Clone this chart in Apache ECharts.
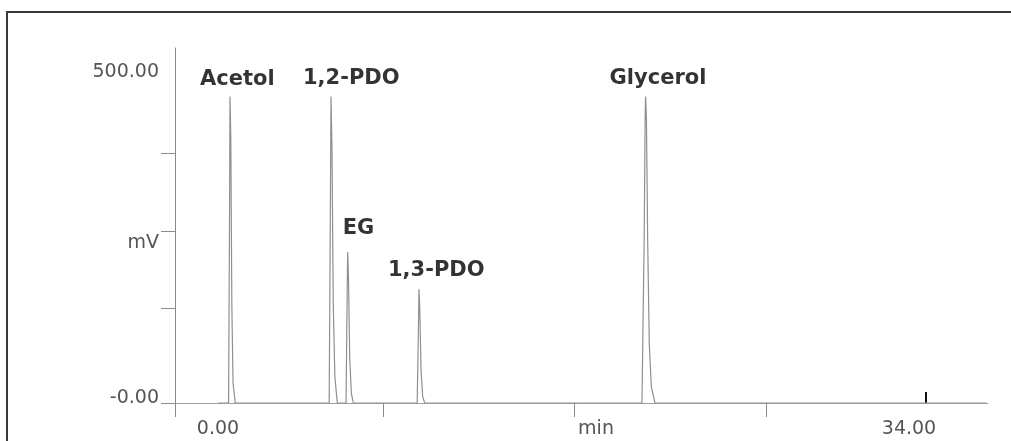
<!DOCTYPE html>
<html>
<head>
<meta charset="utf-8">
<script src="https://cdn.jsdelivr.net/npm/echarts@6/dist/echarts.min.js"></script>
<style>
    html, body { margin: 0; padding: 0; background: #fff; overflow: hidden; }
    #chart { width: 1011px; height: 441px; }
</style>
</head>
<body>
<div id="chart"></div>
<script>
// detector trace, [time (min), signal (mV)]
var trace = [
    [0.00, 0], [0.52, 0], [0.57, 300], [0.59, 463], [0.63, 400], [0.68, 150], [0.74, 30], [0.85, 0],
    [5.47, 0], [5.53, 300], [5.56, 463], [5.61, 380], [5.67, 150], [5.75, 40], [5.87, 0],
    [6.30, 0], [6.35, 150], [6.38, 228], [6.42, 190], [6.48, 70], [6.56, 15], [6.66, 0],
    [9.80, 0], [9.86, 110], [9.89, 172], [9.93, 140], [9.99, 50], [10.07, 10], [10.17, 0],
    [20.86, 0], [20.97, 250], [21.02, 440], [21.04, 463], [21.08, 430], [21.14, 250], [21.22, 90], [21.32, 25], [21.50, 0],
    [37.80, 0]
]

// peak labels
var peakNames = ['Acetol', '1,2-PDO', 'EG', '1,3-PDO', 'Glycerol']
var peakTimes = [0.59, 5.56, 6.38, 9.89, 21.04]
var peakHeights = [463, 463, 228, 172, 463]

// axis ticks and labels
var xTicks = [-2.116, 8.118, 17.516, 26.963]
var xLabelValues = [0, 18.6, 34]
var xLabelTexts = ['0.00', 'min', '34.00']
var endMark = [34.84]
var yTicks = [0, 143.5, 259.8, 377.6]
var yLabelValues = [0, 241.7, 500]
var yLabelTexts = ['-0.00', 'mV', '500.00']

var xMin = -2.116, xMax = 37.887
var yMin = 0, yMax = 536.3

function pick(values, texts, v) {
    for (var i = 0; i < values.length; i++) {
        if (Math.abs(values[i] - v) < 1e-6) return texts[i]
    }
    return ''
}

var chart = echarts.init(document.getElementById('chart'))

// label shift from the peak top, px
var shifts = [[-30, -17], [-28, -18], [-5, -24], [-31, -19], [-36, -18]]
var labelData = peakNames.map(function (n, i) {
    return {
        value: [peakTimes[i], peakHeights[i]],
        name: n,
        label: { offset: shifts[i] }
    }
})

var option = {
    animation: false,
    backgroundColor: '#fff',
    graphic: [{
        type: 'line',
        silent: true,
        z: -1,
        shape: { x1: 7, y1: 12, x2: 1011, y2: 12 },
        style: { stroke: '#3a3a3a', lineWidth: 2 }
    }, {
        type: 'line',
        silent: true,
        z: -1,
        shape: { x1: 7, y1: 11, x2: 7, y2: 441 },
        style: { stroke: '#3a3a3a', lineWidth: 2 }
    }],
    grid: { left: 175, right: 23, top: 48, bottom: 38 },
    xAxis: [{
        type: 'value',
        min: xMin,
        max: xMax,
        position: 'bottom',
        splitLine: { show: false },
        axisLine: { lineStyle: { color: '#a49c9c', width: 1 } },
        axisTick: {
            customValues: xTicks,
            length: 14,
            lineStyle: { color: '#8a8a8a' }
        },
        axisLabel: {
            customValues: xLabelValues,
            margin: 17,
            fontFamily: 'DejaVu Sans',
            fontSize: 19,
            color: '#555',
            formatter: function (v) { return pick(xLabelValues, xLabelTexts, v) }
        }
    }, {
        type: 'value',
        min: xMin,
        max: xMax,
        position: 'bottom',
        splitLine: { show: false },
        axisLine: { show: false },
        axisLabel: { show: false },
        axisTick: {
            customValues: endMark,
            inside: true,
            length: 11,
            lineStyle: { color: '#111', width: 2 }
        }
    }],
    yAxis: {
        type: 'value',
        min: yMin,
        max: yMax,
        splitLine: { show: false },
        axisLine: { show: true, onZero: false, lineStyle: { color: '#8a8a8a' } },
        axisTick: {
            show: true,
            customValues: yTicks,
            length: 14,
            lineStyle: { color: '#8a8a8a' }
        },
        axisLabel: {
            customValues: yLabelValues,
            margin: 16,
            fontFamily: 'DejaVu Sans',
            fontSize: 19,
            color: '#555',
            formatter: function (v) {
                var t = pick(yLabelValues, yLabelTexts, v)
                return v === 0 ? '{z|' + t + '}' : t
            },
            rich: {
                z: { fontFamily: 'DejaVu Sans', fontSize: 19, color: '#555', padding: [0, 0, 10, 0] }
            }
        }
    },
    series: [{
        type: 'line',
        data: trace,
        xAxisIndex: 0,
        showSymbol: false,
        lineStyle: { color: '#8f8f8f', width: 1.2 },
        z: 3
    }, {
        type: 'scatter',
        data: labelData,
        xAxisIndex: 0,
        symbolSize: 1,
        itemStyle: { color: 'rgba(0,0,0,0)' },
        label: {
            show: true,
            position: 'inside',
            align: 'left',
            verticalAlign: 'middle',
            formatter: '{b}',
            fontFamily: 'DejaVu Sans',
            fontWeight: 'bold',
            fontSize: 21,
            color: '#000',
            textBorderWidth: 0
        },
        z: 4
    }]
}

chart.setOption(option)
</script>
</body>
</html>
